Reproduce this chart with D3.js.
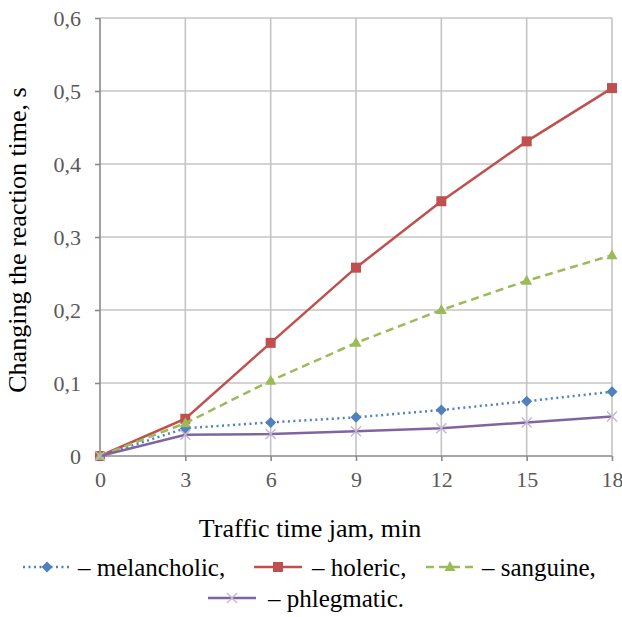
<!DOCTYPE html>
<html><head><meta charset="utf-8">
<script src="https://cdn.jsdelivr.net/npm/d3@7"></script>
<style>body{margin:0;background:#fff;} svg{display:block;} text{font-family:"Liberation Serif","DejaVu Serif",serif;}</style>
</head><body>
<svg id="chart" width="622" height="617"></svg>
<script>
const minutes = [0, 3, 6, 9, 12, 15, 18];
const melancholic = [0, 0.038, 0.046, 0.053, 0.063, 0.075, 0.088];
const holeric = [0, 0.051, 0.155, 0.258, 0.349, 0.431, 0.504];
const sanguine = [0, 0.045, 0.103, 0.155, 0.200, 0.240, 0.275];
const phlegmatic = [0, 0.029, 0.030, 0.034, 0.038, 0.046, 0.054];
const yTicks = [0, 0.1, 0.2, 0.3, 0.4, 0.5, 0.6];
const yTickLabels = ["0", "0,1", "0,2", "0,3", "0,4", "0,5", "0,6"];
const xTitle = "Traffic time jam, min";
const yTitle = "Changing the reaction time, s";

const series = [
  {name: "melancholic", label: "– melancholic,", values: melancholic, color: "#4f81bd", dash: "2,3.5", marker: "diamond", lx: 47, ly: 567, tx: 78, ty: 576},
  {name: "holeric", label: "– holeric,", values: holeric, color: "#c0504d", dash: null, marker: "square", lx: 278, ly: 567, tx: 312, ty: 576},
  {name: "sanguine", label: "– sanguine,", values: sanguine, color: "#9bbb59", dash: "8,5", marker: "triangle", lx: 450, ly: 567, tx: 482, ty: 576},
  {name: "phlegmatic", label: "– phlegmatic.", values: phlegmatic, color: "#8064a2", dash: null, marker: "x", lx: 232, ly: 598, tx: 268, ty: 607}
];

const svg = d3.select("#chart");
const x = d3.scaleLinear().domain([0, 18]).range([100, 612]);
const y = d3.scaleLinear().domain([0, 0.6]).range([456, 18]);
const font = "Liberation Serif, DejaVu Serif, serif";

// grid
svg.append("g").selectAll("line.h").data(yTicks.slice(1)).join("line")
  .attr("x1", x(0)).attr("x2", x(18)).attr("y1", d => y(d)).attr("y2", d => y(d))
  .attr("stroke", "#c4c4c4").attr("stroke-width", 1.6);
svg.append("g").selectAll("line.v").data(minutes.slice(1)).join("line")
  .attr("y1", y(0)).attr("y2", y(0.6)).attr("x1", d => x(d)).attr("x2", d => x(d))
  .attr("stroke", "#c4c4c4").attr("stroke-width", 1.6);

// axes
const yAxis = d3.axisLeft(y).tickValues(yTicks).tickSize(5).tickPadding(14)
  .tickFormat((d, i) => yTickLabels[i]);
const gy = svg.append("g").attr("transform", `translate(${x(0)},0)`).call(yAxis);
const xAxis = d3.axisBottom(x).tickValues(minutes).tickSize(5).tickPadding(10);
const gx = svg.append("g").attr("transform", `translate(0,${y(0)})`).call(xAxis);
[gx, gy].forEach(g => {
  g.attr("font-family", font).attr("font-size", 22);
  g.select(".domain").attr("stroke", "#8a8a8a").attr("stroke-width", 1.6);
  g.selectAll(".tick line").attr("stroke", "#8a8a8a").attr("stroke-width", 1.6);
  g.selectAll(".tick text").attr("fill", "#595959");
});
gx.select(".domain").attr("d", `M${x(0)},0H${x(18)}`);
gy.select(".domain").attr("d", `M0,${y(0)}V${y(0.6)}`);

// lines
const line = d3.line().x((d, i) => x(minutes[i])).y(d => y(d));
function drawMarker(g, type, cx, cy, color) {
  if (type === "square") {
    g.append("rect").attr("x", cx - 5).attr("y", cy - 5).attr("width", 10).attr("height", 10).attr("fill", color);
  } else if (type === "diamond") {
    g.append("path").attr("d", `M${cx},${cy-5.5}L${cx+5.5},${cy}L${cx},${cy+5.5}L${cx-5.5},${cy}Z`).attr("fill", color);
  } else if (type === "triangle") {
    g.append("path").attr("d", `M${cx},${cy-6}L${cx+5.5},${cy+4}L${cx-5.5},${cy+4}Z`).attr("fill", color);
  } else if (type === "x") {
    g.append("path").attr("d", `M${cx-5},${cy-5}L${cx+5},${cy+5}M${cx-5},${cy+5}L${cx+5},${cy-5}`)
      .attr("stroke", "#c2b4d6").attr("stroke-width", 1.4).attr("fill", "none");
  }
}
series.forEach(s => {
  const g = svg.append("g");
  g.append("path").attr("d", line(s.values)).attr("fill", "none").attr("stroke", s.color)
    .attr("stroke-width", 2.5).attr("stroke-dasharray", s.dash);
  s.values.forEach((v, i) => drawMarker(g, s.marker, x(minutes[i]), y(v), s.color));
});

// axis titles
svg.append("text").attr("x", 310).attr("y", 537).attr("text-anchor", "middle")
  .attr("font-family", font).attr("font-size", 26).attr("fill", "#000").text(xTitle);
svg.append("text").attr("transform", "translate(26,240) rotate(-90)").attr("text-anchor", "middle")
  .attr("font-family", font).attr("font-size", 26).attr("fill", "#000").text(yTitle);

// legend
series.forEach(s => {
  const g = svg.append("g");
  g.append("line").attr("x1", s.lx - 24).attr("x2", s.lx + 24).attr("y1", s.ly).attr("y2", s.ly)
    .attr("stroke", s.color).attr("stroke-width", 2.5).attr("stroke-dasharray", s.dash);
  drawMarker(g, s.marker, s.lx, s.ly, s.color);
  g.append("text").attr("x", s.tx).attr("y", s.ty).attr("font-family", font).attr("font-size", 25)
    .attr("fill", "#000").text(s.label);
});
</script>
</body></html>
